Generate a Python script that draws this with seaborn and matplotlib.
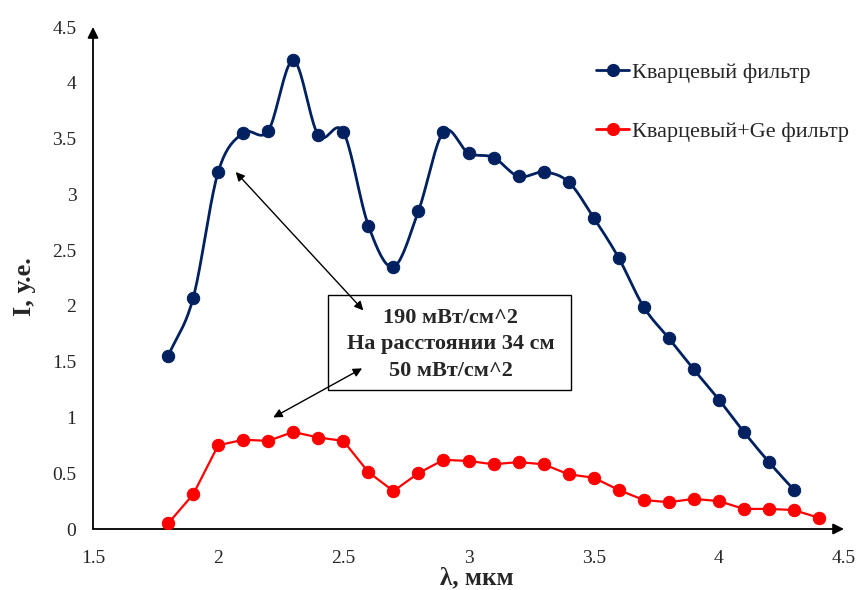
import numpy as np
import pandas as pd
import matplotlib
matplotlib.use("Agg")
import matplotlib.pyplot as plt
from matplotlib.lines import Line2D
from matplotlib.patches import Rectangle
import seaborn as sns

# wavelength, um
wl_quartz = [1.8, 1.9, 2.0, 2.1, 2.2, 2.3, 2.4, 2.5, 2.6, 2.7, 2.8, 2.9, 3.0,
             3.1, 3.2, 3.3, 3.4, 3.5, 3.6, 3.7, 3.8, 3.9, 4.0, 4.1, 4.2, 4.3]
i_quartz = [1.55, 2.07, 3.20, 3.55, 3.57, 4.20, 3.53, 3.56, 2.72, 2.35, 2.85, 3.56, 3.37,
            3.33, 3.16, 3.20, 3.11, 2.79, 2.43, 1.99, 1.71, 1.43, 1.16, 0.87, 0.60, 0.35]

wl_ge = [1.8, 1.9, 2.0, 2.1, 2.2, 2.3, 2.4, 2.5, 2.6, 2.7, 2.8, 2.9, 3.0, 3.1,
         3.2, 3.3, 3.4, 3.5, 3.6, 3.7, 3.8, 3.9, 4.0, 4.1, 4.2, 4.3, 4.4]
i_ge = [0.05, 0.31, 0.75, 0.80, 0.79, 0.87, 0.82, 0.79, 0.51, 0.34, 0.50, 0.62, 0.61, 0.58,
        0.60, 0.58, 0.49, 0.46, 0.35, 0.26, 0.24, 0.27, 0.25, 0.18, 0.18, 0.17, 0.10]

labels = ["Кварцевый фильтр", "Кварцевый+Ge фильтр"]
colors = ["#002060", "#ff0000"]
xticks = [1.5, 2, 2.5, 3, 3.5, 4, 4.5]
yticks = [0, 0.5, 1, 1.5, 2, 2.5, 3, 3.5, 4, 4.5]
note = ["190 мВт/см^2", "На расстоянии 34 см", "50 мВт/см^2"]


def smooth(x, y, n=20):
    # Catmull-Rom curve through the points (like Excel "smoothed line")
    p = np.column_stack([x, y]).astype(float)
    p = np.vstack([2 * p[0] - p[1], p, 2 * p[-1] - p[-2]])
    t = np.linspace(0, 1, n, endpoint=False)[:, None]
    out = []
    for k in range(1, len(p) - 2):
        p0, p1, p2, p3 = p[k - 1], p[k], p[k + 1], p[k + 2]
        seg = 0.5 * ((2 * p1) + (-p0 + p2) * t + (2 * p0 - 5 * p1 + 4 * p2 - p3) * t ** 2
                     + (-p0 + 3 * p1 - 3 * p2 + p3) * t ** 3)
        out.append(seg)
    out.append(p[-2][None, :])
    out = np.vstack(out)
    return out[:, 0], out[:, 1]


sns.set_style("white")
plt.rcParams["font.family"] = ["Liberation Serif", "DejaVu Serif"]

fig = plt.figure(figsize=(8.58, 5.90), dpi=100)
ax = fig.add_axes([93 / 858, 1 - 529 / 590, 751 / 858, 502 / 590])

sx, sy = smooth(wl_quartz, i_quartz)
curve = pd.DataFrame({"x": sx, "y": sy})
sns.lineplot(data=curve, x="x", y="y", sort=False, estimator=None, color=colors[0],
             linewidth=2.0, ax=ax, zorder=3)
sns.scatterplot(x=wl_quartz, y=i_quartz, color=colors[0], s=80, edgecolor=colors[0],
                ax=ax, zorder=4)

sns.lineplot(x=wl_ge, y=i_ge, color=colors[1], linewidth=1.6, ax=ax, zorder=3,
             estimator=None)
sns.scatterplot(x=wl_ge, y=i_ge, color=colors[1], s=80, edgecolor=colors[1],
                ax=ax, zorder=4)

ax.set_xlim(1.5, 4.5)
ax.set_ylim(0, 4.5)
ax.set_xticks(xticks)
ax.set_xticklabels([f"{v:g}" for v in xticks])
ax.set_yticks(yticks)
ax.set_yticklabels([f"{v:g}" for v in yticks])
ax.tick_params(axis="both", length=0, labelsize=14)
ax.tick_params(axis="x", pad=15)
ax.tick_params(axis="y", pad=12)
for s in ax.spines.values():
    s.set_visible(False)

# axis arrows
arrow = dict(arrowstyle="-|>", color="black", lw=1.3, mutation_scale=16,
             shrinkA=0, shrinkB=0)
ax.annotate("", xy=(1, 0), xytext=(0, 0), xycoords="axes fraction",
            textcoords="axes fraction", arrowprops=arrow, annotation_clip=False)
ax.annotate("", xy=(0, 1), xytext=(0, 0), xycoords="axes fraction",
            textcoords="axes fraction", arrowprops=arrow, annotation_clip=False)

ax.set_xlabel("λ, мкм", fontsize=18, fontweight="bold", va="center")
ax.xaxis.set_label_coords((477 - 93) / 751, (529 - 578) / 502)
ax.set_ylabel("I, у.е.", fontsize=19, fontweight="bold", va="center", ha="center")
ax.yaxis.set_label_coords((24 - 93) / 751, (529 - 287) / 502)

# note box with arrows
ax.add_patch(Rectangle((2.44, 1.245), 0.97, 0.85, fill=False, edgecolor="black",
                       linewidth=1.0, zorder=2))
for txt, yy in zip(note, [1.89, 1.66, 1.42]):
    ax.text(2.93, yy, txt, ha="center", va="center", fontsize=16, fontweight="bold")

dbl = dict(arrowstyle="<|-|>", color="black", lw=1.0, mutation_scale=13,
           shrinkA=0, shrinkB=0)
ax.annotate("", xy=(2.07, 3.20), xytext=(2.58, 1.96), arrowprops=dbl)
ax.annotate("", xy=(2.22, 1.00), xytext=(2.575, 1.44), arrowprops=dbl)

handles = [Line2D([], [], color=c, lw=2.0, marker="o", markersize=8.5) for c in colors]
fig.legend(handles, labels, loc="center left", bbox_to_anchor=(596 / 858, 1 - 102 / 590),
           frameon=False, fontsize=16, labelspacing=1.75, handlelength=1.5,
           handletextpad=0.1, borderaxespad=0, borderpad=0)

fig.savefig("out.png", dpi=100)
